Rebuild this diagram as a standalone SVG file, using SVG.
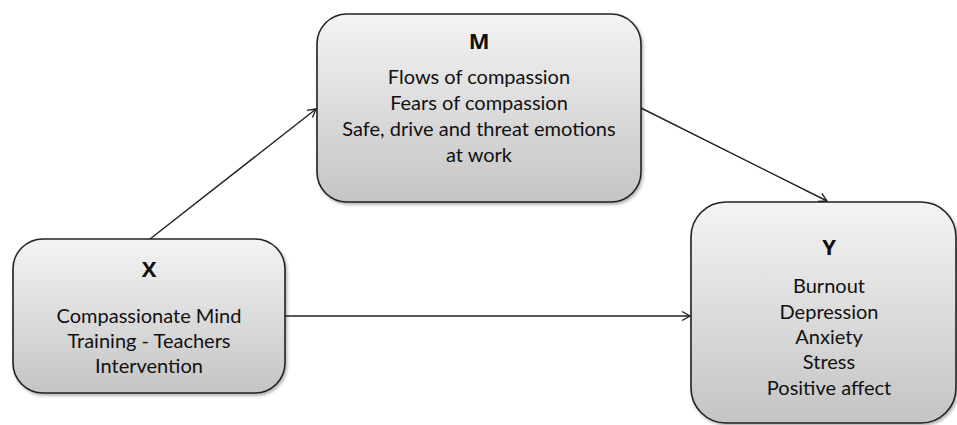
<svg xmlns="http://www.w3.org/2000/svg" width="957" height="425" viewBox="0 0 957 425">
<style>
.box{stroke:#222;stroke-width:1.6;fill:url(#g)}
.t{font-family:Lato,"Open Sans","Liberation Sans",sans-serif;font-size:20px;fill:#111;text-anchor:middle}
.h{font-family:"Open Sans","Liberation Sans",sans-serif;font-size:22px;font-weight:bold;fill:#111;text-anchor:middle}
.c{stroke:#222;stroke-width:1.4;fill:none;marker-end:url(#a)}
</style>
<defs>
<linearGradient id="g" x1="0" y1="0" x2="0" y2="1">
<stop offset="0" stop-color="#f4f4f4"/>
<stop offset="1" stop-color="#c4c4c4"/>
</linearGradient>
<filter id="s" x="-10%" y="-10%" width="120%" height="120%">
<feDropShadow dx="1.5" dy="2" stdDeviation="1.5" flood-color="#000" flood-opacity="0.3"/>
</filter>
<marker id="a" markerWidth="12" markerHeight="12" refX="10" refY="6" orient="auto" markerUnits="userSpaceOnUse">
<path d="M2,1.5 L10,6 L2,10.5" fill="none" stroke="#222" stroke-width="1.4"/>
</marker>
</defs>
<g id="connectors">
<line class="c" x1="150" y1="239" x2="316" y2="109"/>
<line class="c" x1="641" y1="108" x2="827" y2="201"/>
<line class="c" x1="285" y1="316" x2="690" y2="316"/>
</g>
<g id="M">
<rect class="box" filter="url(#s)" x="317" y="14" width="324" height="188" rx="30"/>
<text class="h" x="479" y="49">M</text>
<text class="t" x="479" y="84">Flows of compassion</text>
<text class="t" x="479" y="110">Fears of compassion</text>
<text class="t" x="479" y="136">Safe, drive and threat emotions</text>
<text class="t" x="479" y="162">at work</text>
</g>
<g id="X">
<rect class="box" filter="url(#s)" x="13" y="239" width="272" height="154" rx="30"/>
<text class="h" x="149" y="277">X</text>
<text class="t" x="149" y="323">Compassionate Mind</text>
<text class="t" x="149" y="348">Training - Teachers</text>
<text class="t" x="149" y="373">Intervention</text>
</g>
<g id="Y">
<rect class="box" filter="url(#s)" x="691" y="202" width="265" height="221" rx="35"/>
<text class="h" x="829" y="255">Y</text>
<text class="t" x="829" y="293">Burnout</text>
<text class="t" x="829" y="319">Depression</text>
<text class="t" x="829" y="344">Anxiety</text>
<text class="t" x="829" y="369">Stress</text>
<text class="t" x="829" y="395">Positive affect</text>
</g>
</svg>
